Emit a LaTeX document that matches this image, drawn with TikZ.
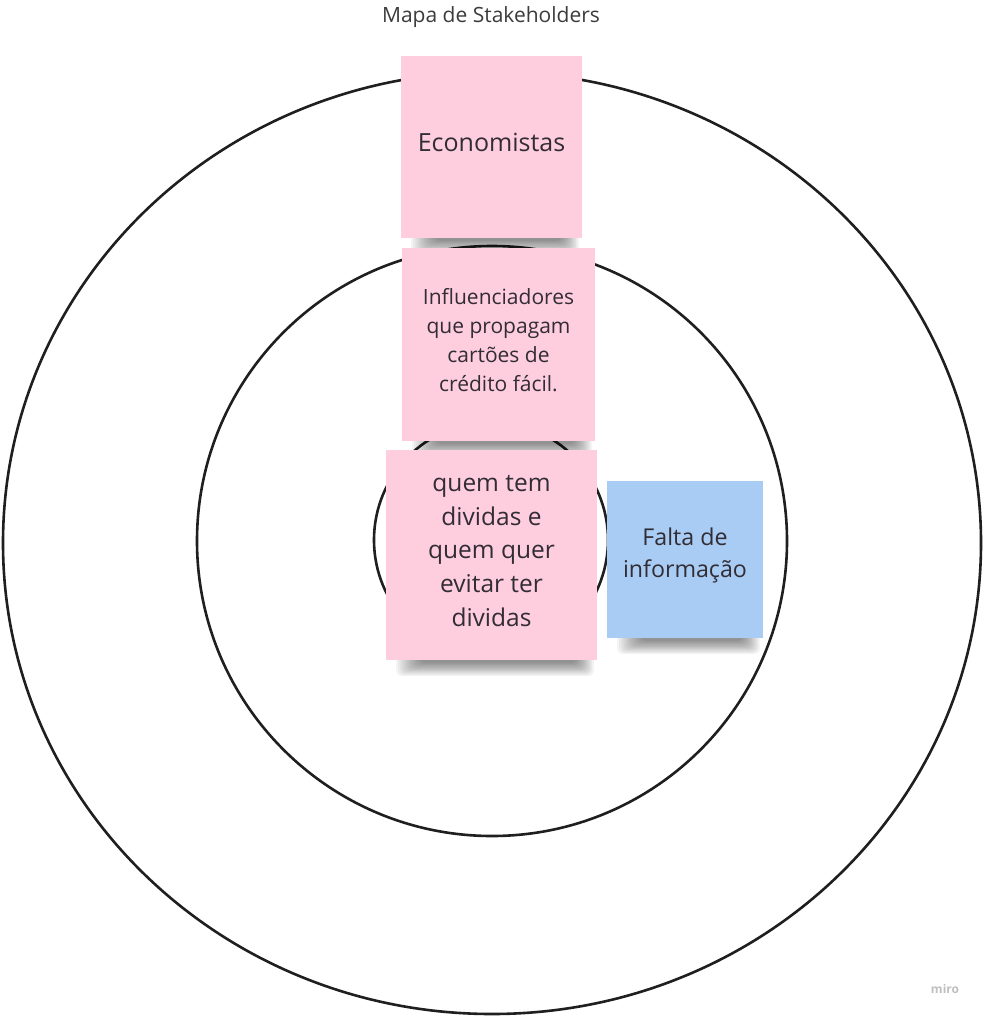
\documentclass[tikz,border=0pt]{standalone}
\usepackage{fontspec}
\setmainfont{Open Sans}
\definecolor{notepink}{RGB}{254,206,223}
\definecolor{noteblue}{RGB}{168,204,243}
\definecolor{inktext}{RGB}{50,44,52}
\definecolor{titlegray}{RGB}{60,60,60}
\tikzset{
  ring/.style={draw=black!88, line width=2.6pt},
  note/.style={rectangle, inner sep=0pt, draw=none},
  notetext/.style={align=center, text=inktext, inner sep=0pt},
}
\newcommand{\noteshadow}[3]{% left x, right x, bottom y
  \foreach \k in {0,...,11}{
    \fill[black, opacity=0.045, rounded corners=5pt]
      ({#1+10+\k*2.2}, {#3-6}) rectangle ({#2-3-\k*1.6}, {#3+16-\k*1.2});
  }
}
\begin{document}
\begin{tikzpicture}[x=1pt,y=-1pt]
\useasboundingbox (0,0) rectangle (983,1016);
\fill[white] (0,0) rectangle (983,1016);

% rings
\draw[ring] (492,543) ellipse [x radius=489, y radius=471];
\draw[ring] (492,541) circle [radius=295];
\draw[ring] (491,540) ellipse [x radius=117, y radius=118];

% title
\node[text=titlegray, font=\fontsize{21}{26}\selectfont] (title) at (491,17) {Mapa de Stakeholders};

% shadows
\noteshadow{401}{582}{238}
\noteshadow{402}{595}{441}
\noteshadow{386}{597}{660}
\noteshadow{607}{763}{638}

% notes
\node[note, fill=notepink, minimum width=181pt, minimum height=182pt] (econ) at (491.5,147) {};
\node[notetext, font=\fontsize{25}{32}\selectfont] (econt) at ([yshift=5pt]econ.center) {Economistas};

\node[note, fill=notepink, minimum width=193pt, minimum height=193pt] (infl) at (498.5,344.5) {};
\node[notetext, font=\fontsize{21}{29}\selectfont] (inflt) at ([yshift=4pt]infl.center) {Influenciadores\\que propagam\\cartões de\\crédito fácil.};

\node[note, fill=notepink, minimum width=211pt, minimum height=210pt] (quem) at (491.5,555) {};
\node[notetext, font=\fontsize{24.5}{33.7}\selectfont] (quemt) at ([yshift=4pt]quem.center) {quem tem\\dividas e\\quem quer\\evitar ter\\dividas};

\node[note, fill=noteblue, minimum width=156pt, minimum height=157pt] (falta) at (685,559.5) {};
\node[notetext, font=\fontsize{23.2}{32}\selectfont] (faltat) at ([yshift=4pt]falta.center) {Falta de\\informação};

% logo
\node[text=black!25, font=\bfseries\fontsize{12}{14}\selectfont] (miro) at (945,989) {miro};
\end{tikzpicture}
\end{document}
